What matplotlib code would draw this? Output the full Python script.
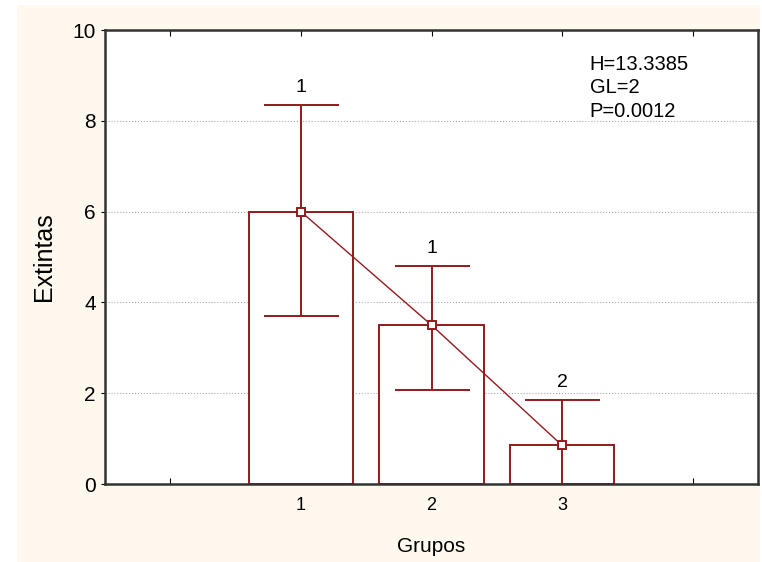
import numpy as np
import matplotlib.pyplot as plt
from matplotlib.patches import Rectangle

plt.rcParams['font.family'] = ['Liberation Sans', 'DejaVu Sans']

# datos
grupos = [1, 2, 3]
medias = [6.0, 3.5, 0.85]
sup = [8.35, 4.80, 1.84]
inf = [3.69, 2.07, -0.1]
letras = ['1', '1', '2']
stats = ['H=13.3385', 'GL=2', 'P=0.0012']

rojo = '#931a1e'
crema = '#fff8ee'

fig = plt.figure(figsize=(7.62, 5.62), dpi=100, facecolor='white')
fig.patches.append(Rectangle((17/762, 0), 743/762, 557/562, transform=fig.transFigure,
                             facecolor=crema, edgecolor='none', zorder=-10))
ax = fig.add_axes([105/762, 1-484/562, 653/762, 454/562])
ax.set_facecolor('white')

x = np.array(grupos)
m = np.array(medias)
ax.bar(x, m, width=0.8, facecolor='white', edgecolor=rojo, linewidth=1.4, zorder=2)
ax.errorbar(x, m, yerr=[m - np.array(inf), np.array(sup) - m], fmt='none',
            ecolor=rojo, elinewidth=1.4, capsize=27, capthick=1.4, zorder=3)
ax.plot(x, m, '-', color=rojo, linewidth=1.0, zorder=4)
ax.plot(x, m, 's', color=rojo, markerfacecolor='white', markersize=5.5,
        markeredgewidth=1.4, zorder=5)
for xi, s, l in zip(x, sup, letras):
    ax.text(xi, s + 0.2, l, ha='center', va='bottom', fontsize=14)

ax.text(3.21, 9.45, '\n'.join(stats), ha='left', va='top', fontsize=14.5, linespacing=1.3)

ax.set_xlim(-0.5, 4.5)
ax.set_ylim(0, 10)
ax.set_xticks([0, 1, 2, 3, 4])
ax.set_xticklabels(['', '1', '2', '3', ''])
ax.set_yticks([0, 2, 4, 6, 8, 10])
ax.tick_params(axis='x', direction='in', length=4, top=True, labelsize=13, pad=9)
ax.tick_params(axis='y', direction='out', length=3, labelsize=15)
ax.grid(axis='y', linestyle=':', color='#aaaaaa', linewidth=0.8, zorder=0)
ax.set_axisbelow(True)
for sp in ax.spines.values():
    sp.set_linewidth(1.8)
    sp.set_color('#333333')
    sp.set_zorder(6)

ax.set_xlabel('Grupos', fontsize=15, labelpad=17)
ax.set_ylabel('Extintas', fontsize=18, labelpad=12)

fig.savefig('out.png', dpi=100, facecolor=fig.get_facecolor())
